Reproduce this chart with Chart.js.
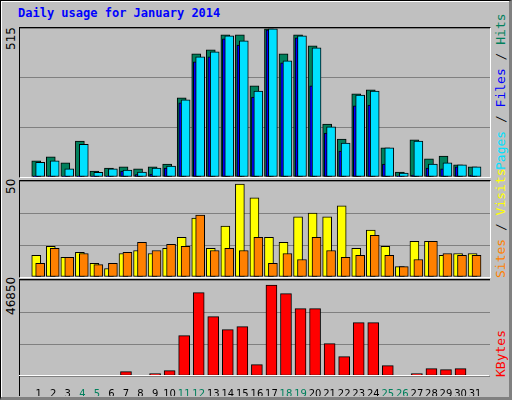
<!DOCTYPE html>
<html><head><meta charset="utf-8">
<script src="https://cdn.jsdelivr.net/npm/chart.js@4"></script>
<style>
html,body{margin:0;padding:0;background:#fff}
#frame{position:absolute;left:0;top:0;width:508px;height:396px;background:#C0C0C0;border:1px solid #000;border-right:3px solid #808080;border-bottom:3px solid #808080;box-shadow:inset 1px 1px 0 #fff}
.p{position:absolute;left:19px;width:470px;border-top:1px solid #000;border-left:1px solid #000;border-right:1px solid #fff;border-bottom:1px solid #fff;background:#C0C0C0}
.p canvas{display:block}
.t{position:absolute;font-family:"DejaVu Sans Mono",monospace;font-size:12px;white-space:nowrap}
.rot{transform-origin:0 0;transform:rotate(-90deg)}
</style></head><body>
<div id="frame"></div>
<div class="t" style="left:18px;top:6px;color:#0000FF;font-weight:bold">Daily usage for January 2014</div>
<div class="p" style="top:27px;height:149px"><canvas id="c1"></canvas></div>
<div class="p" style="top:180px;height:96px"><canvas id="c2"></canvas></div>
<div class="p" style="top:279px;height:116px;border-bottom:none;border-right:none;background:transparent"><canvas id="c3"></canvas></div>
<div style="position:absolute;left:19px;top:375px;width:470px;height:0;border-top:1px solid #fff"></div>
<div class="t rot" style="left:4px;top:50px;font-family:'DejaVu Sans';font-size:12px">515</div>
<div class="t rot" style="left:4px;top:194px;font-family:'DejaVu Sans';font-size:12px">50</div>
<div class="t rot" style="left:4px;top:315px;font-family:'DejaVu Sans';font-size:12px">46850</div>
<div class="t rot" style="left:493px;top:170px;font-size:13px"><span style="color:#00E0FF">Pages</span><span style="color:#000"> / </span><span style="color:#0000FF">Files</span><span style="color:#000"> / </span><span style="color:#00805C">Hits</span></div>
<div class="t rot" style="left:493px;top:278px;font-size:13px"><span style="color:#FF8000">Sites</span><span style="color:#000"> / </span><span style="color:#FFFF00">Visits</span></div>
<div class="t rot" style="left:493px;top:377px;color:#FF0000;font-size:13px">KBytes</div>
<script>
const days=[1,2,3,4,5,6,7,8,9,10,11,12,13,14,15,16,17,18,19,20,21,22,23,24,25,26,27,28,29,30,31];
const weekend=[4,5,11,12,18,19,25,26];
const hits=[56,70,49,125,21,31,35,28,35,45,275,428,442,494,494,317,515,428,494,456,184,132,289,303,101,17,129,63,73,42,35];
const pages=[51,56,28,114,16,28,24,17,31,38,268,418,435,491,473,299,515,404,491,449,174,118,285,299,101,14,125,45,49,42,35];
const files=[3,4,2,3,2,3,21,8,10,31,258,400,418,480,459,278,512,397,484,317,153,90,247,250,45,3,7,31,28,35,7];
const visits=[11.5,16.3,10.4,13.1,7.2,4.5,12.5,14.1,12.5,15.2,21.1,31.3,15.2,27,49.4,42,21.1,18.4,31.9,34,31.9,37.8,15.2,24.9,16.3,5.5,19,19,11.5,12.5,12.5];
const sites=[7.2,15.2,10.4,12.5,6.6,7.2,13.1,18.4,14.1,17.4,16.3,32.9,14.1,15.2,14.1,21.1,7.2,12.5,9.3,21.1,14.1,10.4,11.5,22.2,11.5,5.5,9.3,19,12.5,11.5,11.5];
const kbytes=[200,200,200,200,200,200,2231,200,1200,2746,20764,42900,30545,23852,25397,5834,46850,42385,34663,34663,16645,9953,27456,27456,5320,200,1200,3775,3260,3775,200];
const xMin=0.235,xMax=31.505;
const pts=(arr,off)=>arr.map((v,i)=>({x:days[i]+off,y:v}));
function ds(data,color,w,order){return{data,backgroundColor:color,borderColor:'#000',borderWidth:1,barThickness:w,order,borderSkipped:false,grouped:false}}
function opts(max,showX){
 return{responsive:true,maintainAspectRatio:false,animation:false,
  layout:{padding:0},
  plugins:{legend:{display:false},tooltip:{enabled:false}},
  scales:{
   x:{type:'linear',min:xMin,max:xMax,display:showX,grid:{display:false},border:{display:false},
      ticks:{stepSize:1,includeBounds:false,autoSkip:false,maxRotation:0,padding:4,
        font:{family:'DejaVu Sans',size:10},
        color:c=>weekend.includes(c.tick.value)?'#00805C':'#000',
        callback:v=>(Number.isInteger(v)&&v>=1&&v<=31)?String(v):''},
      afterFit:s=>{s.height=showX?20:0}},
   y:{min:0,max,afterFit:s=>{s.width=0},border:{display:false},
      grid:{color:'#808080',lineWidth:1,drawTicks:false},
      ticks:{display:false,stepSize:max/3}}
  }};
}
new Chart(document.getElementById('c1'),{type:'bar',data:{datasets:[
 ds(pts(hits,-0.17),'#00805C',9,3),
 ds(pts(files,-0.2),'#0000FF',5,2),
 ds(pts(pages,0.1),'#00E0FF',9,1)]},options:opts(518,false)});
new Chart(document.getElementById('c2'),{type:'bar',data:{datasets:[
 ds(pts(visits,-0.17),'#FFFF00',9,2),
 ds(pts(sites,0.1),'#FF8000',9,1)]},options:opts(51,false)});
new Chart(document.getElementById('c3'),{type:'bar',data:{datasets:[
 ds(pts(kbytes,0),'#FF0000',11,1)]},options:opts(49425,true)});
</script>
</body></html>
